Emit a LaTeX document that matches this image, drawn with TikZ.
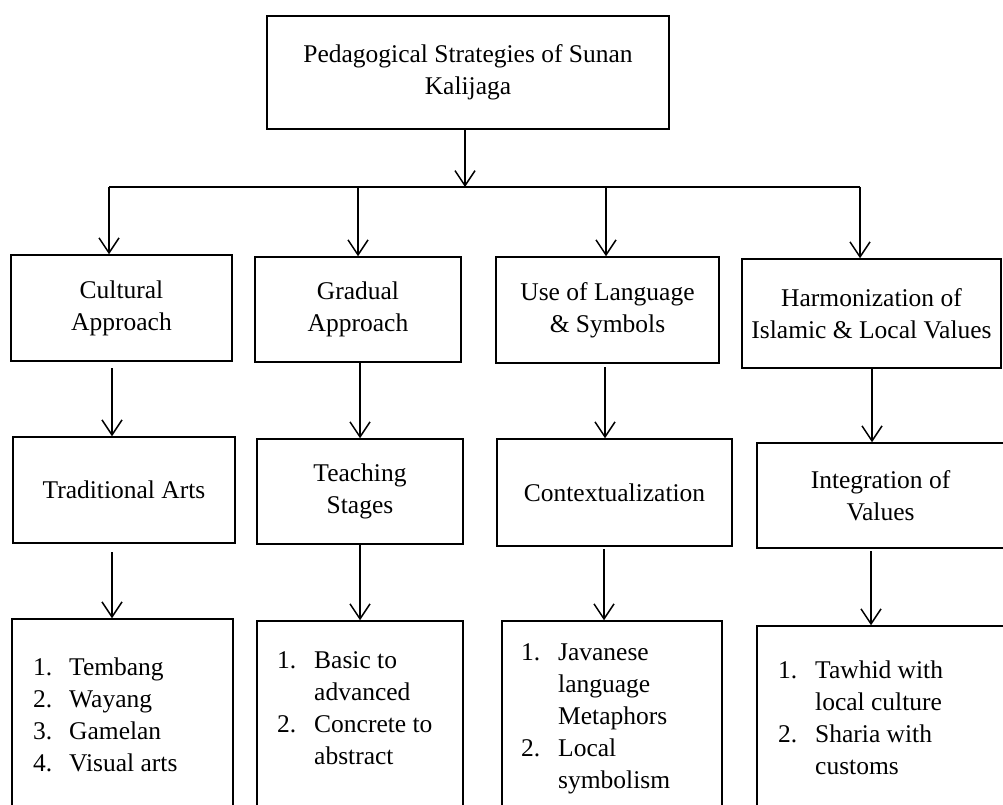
\documentclass[tikz,border=0pt]{standalone}
\usepackage{fontspec}
\setmainfont{Liberation Serif}
\usetikzlibrary{arrows.meta}
\newcommand\chartfont{\fontsize{25.5}{32}\selectfont}
\begin{document}
\begin{tikzpicture}[x=1pt,y=-1pt,
  box/.style={draw, line width=1.5pt, align=center, inner sep=0pt, font=\chartfont},
  wire/.style={line width=1.5pt},
  arr/.style={line width=1.5pt, -{Straight Barb[length=15pt,width=20pt,line width=1.5pt]}},
  listtext/.style={inner sep=0pt, anchor=base west, font=\chartfont}
]
\useasboundingbox (0,0) rectangle (1003,805);

% root
\node[box, minimum width=402pt, minimum height=113pt] (root) at (468,72.5)
  {Pedagogical Strategies of Sunan\\Kalijaga};

% first level
\node[box, minimum width=221pt, minimum height=106pt] (cult) at (121.5,308) {Cultural\\Approach};
\node[box, minimum width=206pt, minimum height=105pt] (grad) at (358,309.5) {Gradual\\Approach};
\node[box, minimum width=223pt, minimum height=106pt] (lang) at (607.5,310) {Use of Language\\\& Symbols};
\node[box, minimum width=259pt, minimum height=109pt] (harm) at (871.5,313.5) {Harmonization of\\Islamic \& Local Values};

% second level
\node[box, minimum width=222pt, minimum height=106pt] (arts) at (124,490) {Traditional Arts};
\node[box, minimum width=206pt, minimum height=105pt] (stage) at (360,491.5) {Teaching\\Stages};
\node[box, minimum width=235pt, minimum height=107pt] (ctx) at (614.5,492.5) {Contextualization};
\node[box, minimum width=247pt, minimum height=105pt] (integ) at (880.5,495.5) {Integration of\\Values};

% third level frames
\node[box, minimum width=221pt, minimum height=226pt] (l1) at (122.5,732) {};
\node[box, minimum width=206pt, minimum height=224pt] (l2) at (360,733) {};
\node[box, minimum width=220pt, minimum height=224pt] (l3) at (612,733) {};
\node[box, minimum width=247pt, minimum height=219pt] (l4) at (880.5,735.5) {};

% third level lists
\node[listtext] (t1) at (33,675) {\begin{tabular}[t]{@{}p{36pt}@{}l@{}}
  1. & Tembang\\ 2. & Wayang\\ 3. & Gamelan\\ 4. & Visual arts\end{tabular}};
\node[listtext] (t2) at (277,668) {\begin{tabular}[t]{@{}p{37pt}@{}l@{}}
  1. & Basic to\\ & advanced\\ 2. & Concrete to\\ & abstract\end{tabular}};
\node[listtext] (t3) at (521,660) {\begin{tabular}[t]{@{}p{37pt}@{}l@{}}
  1. & Javanese\\ & language\\ & Metaphors\\ 2. & Local\\ & symbolism\end{tabular}};
\node[listtext] (t4) at (778,678) {\begin{tabular}[t]{@{}p{37pt}@{}l@{}}
  1. & Tawhid with\\ & local culture\\ 2. & Sharia with\\ & customs\end{tabular}};

% distribution bus
\coordinate (busM) at (465,187);
\coordinate (d1) at (109,187);
\coordinate (d2) at (358,187);
\coordinate (d3) at (606,187);
\coordinate (d4) at (860,187);
\draw[wire] (d1) -- (d4);
\draw[arr] (root.south -| busM) -- (busM);
\draw[arr] (d1) -- (d1 |- cult.north);
\draw[arr] (d2) -- (d2 |- grad.north);
\draw[arr] (d3) -- (d3 |- lang.north);
\draw[arr] (d4) -- (d4 |- harm.north);

% first to second level
\coordinate (e1) at (112,368);
\coordinate (e2) at (360,362);
\coordinate (e3) at (605,367);
\coordinate (e4) at (872,368);
\draw[arr] (e1) -- (e1 |- arts.north);
\draw[arr] (e2) -- (e2 |- stage.north);
\draw[arr] (e3) -- (e3 |- ctx.north);
\draw[arr] (e4) -- (e4 |- integ.north);

% second to third level
\coordinate (f1) at (112,552);
\coordinate (f2) at (360,544);
\coordinate (f3) at (604,549);
\coordinate (f4) at (871,551);
\draw[arr] (f1) -- (f1 |- l1.north);
\draw[arr] (f2) -- (f2 |- l2.north);
\draw[arr] (f3) -- (f3 |- l3.north);
\draw[arr] (f4) -- (f4 |- l4.north);
\end{tikzpicture}
\end{document}
